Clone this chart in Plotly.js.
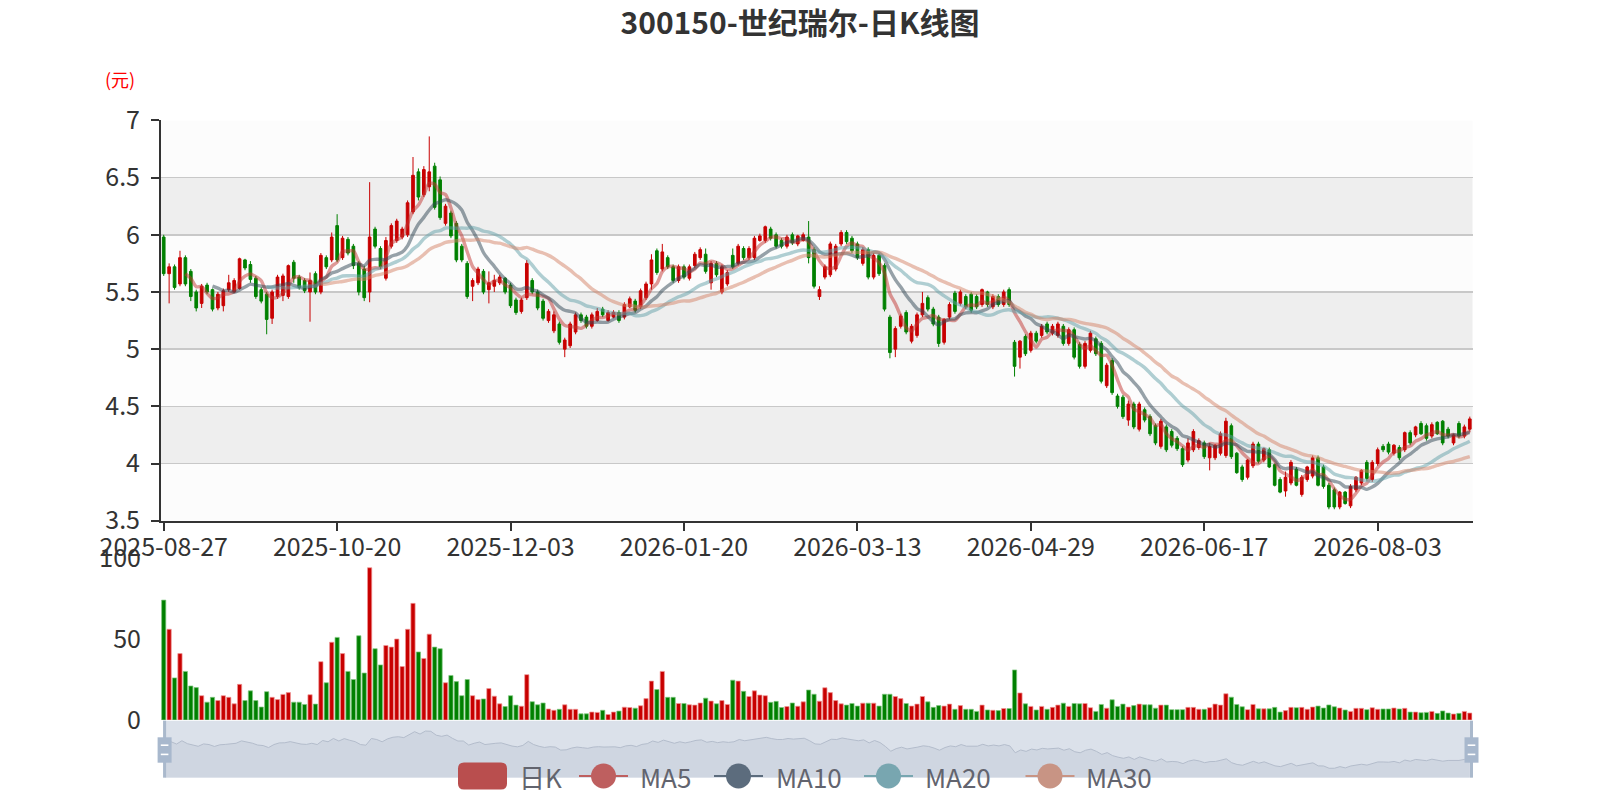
<!DOCTYPE html>
<html>
<head>
<meta charset="utf-8">
<script src="https://cdn.plot.ly/plotly-3.0.1.min.js"></script>
<style>html,body{margin:0;padding:0;background:#fff;}#chart{width:1600px;height:800px;}</style>
</head>
<body>
<div id="chart"></div>
<script>
// ---- data ----
const tickIdx = [0, 32, 64, 96, 128, 160, 192, 224];
const tickLabels = ['2025-08-27','2025-10-20','2025-12-03','2026-01-20','2026-03-13','2026-04-29','2026-06-17','2026-08-03'];

const opens = [
5.98,5.66,5.72,5.57,5.80,5.68,5.50,5.40,5.56,5.52,5.36,5.38,5.52,5.50,5.53,5.78,5.74,5.62,5.52,5.48,
5.27,5.46,5.47,5.46,5.76,5.63,5.60,5.50,5.66,5.50,5.80,5.78,6.08,5.80,5.96,5.90,5.75,5.70,5.50,6.05,
5.88,5.62,5.90,5.95,5.98,6.00,6.20,6.55,6.35,6.42,6.60,6.48,6.10,6.19,6.10,5.90,5.75,5.55,5.58,5.68,
5.52,5.55,5.58,5.62,5.56,5.43,5.33,5.45,5.60,5.50,5.42,5.25,5.16,5.22,5.00,5.03,5.15,5.30,5.28,5.20,
5.25,5.35,5.25,5.28,5.32,5.28,5.37,5.42,5.37,5.45,5.57,5.86,5.70,5.80,5.72,5.60,5.72,5.62,5.73,5.80,
5.83,5.58,5.75,5.50,5.57,5.82,5.75,5.88,5.80,5.80,5.95,5.95,6.05,6.00,5.95,5.90,6.00,5.92,5.95,5.98,
5.87,5.46,5.63,5.65,5.70,5.92,6.02,5.97,5.92,5.75,5.87,5.63,5.82,5.73,5.28,5.00,5.20,5.32,5.07,5.12,
5.30,5.45,5.35,5.28,5.06,5.28,5.49,5.40,5.46,5.48,5.46,5.39,5.50,5.37,5.46,5.39,5.52,5.06,4.93,5.11,
4.99,5.14,5.12,5.22,5.14,5.12,5.20,5.05,5.17,5.04,4.85,4.99,5.09,5.05,4.68,4.90,4.59,4.58,4.38,4.52,
4.30,4.47,4.41,4.33,4.15,4.32,4.28,4.22,4.13,4.03,4.12,4.14,4.18,4.05,4.05,4.09,4.07,4.33,4.09,3.97,
3.88,3.98,4.17,4.03,4.12,3.99,3.86,3.76,3.83,3.95,3.73,3.86,3.89,4.05,3.97,3.81,3.77,3.62,3.75,3.63,
3.77,3.83,4.01,3.86,4.00,4.15,4.17,4.09,4.14,4.12,4.27,4.25,4.35,4.33,4.24,4.36,4.37,4.30,4.18,4.35,
4.24,4.30];
const highs = [
6.00,5.75,5.74,5.86,5.82,5.70,5.52,5.57,5.58,5.53,5.50,5.53,5.65,5.62,5.80,5.79,5.77,5.64,5.54,5.50,
5.52,5.65,5.66,5.74,5.78,5.65,5.62,5.67,5.68,5.84,5.82,6.02,6.18,5.99,5.98,5.92,5.77,5.73,6.46,6.07,
5.90,5.98,6.10,6.14,6.07,6.30,6.68,6.58,6.60,6.86,6.63,6.51,6.27,6.21,6.12,5.92,5.77,5.62,5.72,5.70,
5.68,5.65,5.65,5.63,5.58,5.45,5.45,5.78,5.62,5.52,5.44,5.35,5.33,5.24,5.10,5.24,5.32,5.32,5.30,5.32,
5.36,5.37,5.34,5.34,5.34,5.41,5.46,5.44,5.53,5.59,5.83,5.88,5.92,5.82,5.74,5.74,5.74,5.74,5.85,5.89,
5.88,5.77,5.77,5.74,5.69,5.88,5.92,5.90,5.90,5.99,6.01,6.08,6.07,6.02,5.97,6.00,6.02,6.00,6.02,6.12,
5.89,5.55,5.74,5.94,5.92,6.04,6.04,5.99,5.94,5.89,5.89,5.84,5.84,5.75,5.30,5.20,5.31,5.34,5.22,5.32,
5.50,5.47,5.37,5.30,5.27,5.41,5.51,5.52,5.48,5.50,5.48,5.53,5.51,5.48,5.48,5.52,5.54,5.08,5.08,5.13,
5.16,5.16,5.22,5.24,5.22,5.24,5.22,5.19,5.19,5.06,5.07,5.16,5.11,5.07,4.88,4.92,4.61,4.60,4.55,4.54,
4.54,4.49,4.43,4.35,4.39,4.34,4.30,4.24,4.15,4.22,4.30,4.22,4.20,4.18,4.17,4.28,4.40,4.35,4.10,3.99,
4.04,4.19,4.19,4.14,4.14,4.00,3.88,3.93,4.03,3.97,3.90,3.98,4.07,4.07,3.99,3.83,3.79,3.76,3.76,3.82,
3.89,3.95,4.03,4.03,4.14,4.17,4.19,4.17,4.16,4.28,4.29,4.33,4.37,4.35,4.36,4.37,4.38,4.32,4.26,4.37,
4.34,4.41];
const lows = [
5.64,5.40,5.52,5.55,5.55,5.42,5.33,5.36,5.48,5.33,5.34,5.33,5.50,5.49,5.52,5.69,5.58,5.44,5.40,5.13,
5.22,5.44,5.42,5.44,5.58,5.52,5.49,5.24,5.48,5.48,5.70,5.76,5.76,5.78,5.82,5.70,5.47,5.42,5.41,5.88,
5.70,5.60,5.88,5.93,5.96,5.98,6.18,6.30,6.33,6.38,6.22,6.13,6.08,5.97,5.76,5.76,5.44,5.42,5.56,5.48,
5.40,5.50,5.56,5.48,5.36,5.30,5.31,5.43,5.48,5.34,5.25,5.23,5.14,5.04,4.93,5.01,5.13,5.23,5.18,5.18,
5.24,5.28,5.24,5.27,5.23,5.26,5.36,5.32,5.35,5.43,5.52,5.65,5.68,5.70,5.58,5.58,5.61,5.60,5.71,5.78,
5.66,5.52,5.63,5.48,5.55,5.70,5.73,5.78,5.78,5.78,5.94,5.93,5.95,5.88,5.88,5.88,5.91,5.90,5.94,5.75,
5.53,5.43,5.61,5.63,5.68,5.90,5.92,5.84,5.78,5.73,5.61,5.61,5.64,5.33,4.92,4.93,5.18,5.13,5.05,5.10,
5.28,5.33,5.20,5.02,5.04,5.26,5.31,5.38,5.35,5.32,5.35,5.37,5.37,5.35,5.37,5.37,5.37,4.76,4.83,4.94,
4.97,5.05,5.10,5.13,5.12,5.10,5.03,5.03,4.91,4.83,4.83,4.97,4.94,4.70,4.66,4.60,4.48,4.39,4.33,4.30,
4.28,4.36,4.24,4.16,4.13,4.10,4.14,4.11,3.97,4.01,4.10,4.12,4.04,3.94,4.03,4.07,4.05,4.04,3.91,3.84,
3.86,3.96,4.00,4.01,3.96,3.80,3.74,3.71,3.81,3.80,3.71,3.84,3.87,3.80,3.78,3.60,3.60,3.60,3.64,3.61,
3.75,3.81,3.85,3.84,3.98,4.10,4.08,4.07,4.03,4.10,4.16,4.23,4.25,4.20,4.22,4.25,4.16,4.22,4.16,4.22,
4.22,4.28];
const closes = [
5.66,5.72,5.54,5.80,5.57,5.46,5.36,5.55,5.50,5.35,5.48,5.51,5.58,5.60,5.79,5.71,5.61,5.46,5.42,5.26,
5.50,5.63,5.64,5.73,5.62,5.54,5.51,5.60,5.50,5.82,5.72,5.98,5.78,5.97,5.84,5.73,5.50,5.45,5.98,5.90,
5.72,5.95,6.08,6.12,6.05,6.28,6.52,6.33,6.57,6.55,6.24,6.15,6.25,5.99,5.78,5.78,5.46,5.60,5.70,5.50,
5.58,5.60,5.63,5.50,5.38,5.32,5.43,5.75,5.50,5.36,5.27,5.33,5.30,5.06,5.08,5.22,5.30,5.25,5.20,5.30,
5.33,5.30,5.32,5.32,5.25,5.39,5.44,5.34,5.51,5.57,5.78,5.67,5.85,5.72,5.60,5.72,5.63,5.72,5.83,5.87,
5.68,5.75,5.65,5.72,5.67,5.72,5.90,5.80,5.88,5.97,5.99,6.07,5.97,5.90,5.90,5.98,5.93,5.99,6.00,5.80,
5.55,5.52,5.72,5.92,5.90,6.02,5.94,5.86,5.80,5.87,5.63,5.82,5.66,5.35,4.97,5.18,5.29,5.15,5.20,5.30,
5.40,5.35,5.22,5.05,5.26,5.39,5.33,5.50,5.37,5.34,5.37,5.52,5.39,5.46,5.39,5.50,5.39,4.85,5.07,4.96,
5.14,5.07,5.20,5.15,5.20,5.22,5.05,5.17,4.93,4.85,5.05,5.14,4.96,4.72,4.86,4.62,4.50,4.41,4.52,4.32,
4.52,4.38,4.26,4.18,4.37,4.12,4.16,4.13,3.99,4.18,4.28,4.20,4.06,4.15,4.16,4.26,4.37,4.06,3.92,3.86,
4.03,4.17,4.02,4.13,3.97,3.81,3.75,3.88,4.01,3.81,3.88,3.97,4.05,3.81,3.80,3.62,3.62,3.75,3.65,3.80,
3.88,3.94,3.87,4.01,4.12,4.12,4.10,4.16,4.05,4.27,4.18,4.32,4.26,4.22,4.34,4.26,4.18,4.24,4.25,4.24,
4.32,4.39];
const volumes = [
74,56,26,41,30,21,20,15,11,14,12,15,14,10,22,12,18,12,8,17.5,
14,12.6,15.8,16.9,11,11,9.6,15.6,9.8,36,23,48,51,41,30,25,52,29,94,44,
34,46,45,50,33,56,72,42,38,53,45,44,23,27.5,23.7,15,25,15,12.6,13,
19.4,14.7,10,8.3,15,9.2,8.5,28,11.3,9.4,10.5,6.8,6,6.6,9.4,6.6,6.6,3.8,3.8,4.9,
4.7,6,3.4,4.9,5.5,7.9,7.7,7.3,8.8,13.2,24,18.8,30,14,14,10.2,10.2,9.4,9.2,10.5,
13.5,11.7,10,12,9.6,24.6,24,17.7,14.5,18,15.4,15,10.9,11.5,7.7,8.3,10.5,8.5,
11.2,18.5,15.9,11.6,19.9,16.9,12,10,9.2,10.2,8.6,10.4,10.4,10.4,8.6,15.9,15.9,14.5,13.2,10.2,
8.6,9.8,14.5,11.2,7.8,8.9,8.6,9.8,6.6,8.9,6.6,6.6,5.3,9.2,6.2,6,5.8,7.1,7.1,
30.9,
16.7,10,8.4,6.2,8.4,6.6,7.8,9.2,10.4,8.4,10.2,10,10.2,7.6,5.3,9.6,7.3,12.5,8.4,9.8,
8,8.9,9.8,9.4,9.4,7.3,9.2,9.2,6.4,6.4,6.4,7.8,7.8,6.6,6.6,7.6,9.8,9.2,
16.2,
14.1,9.6,8.2,6.4,9.6,6.9,6.9,6.9,7.8,4.9,5.8,7.8,7.6,
7.8,6.6,8.0,8.6,7.4,9.3,8.2,7.4,6.2,5.3,7.2,7.2,6.4,7.6,6.6,6.8,6.8,7.4,6.8,7.2,
4.9,4.9,4.5,4.7,5.3,4.1,5.6,4.3,3.7,4.1,5.3,4.3];
const maPeriods = [5, 10, 20, 30];
const maNames = ['MA5', 'MA10', 'MA20', 'MA30'];

// ---- styling ----
const FONT = '"Noto Sans CJK SC", "Noto Sans", sans-serif';
const UP = '#c80000', DOWN = '#008000';
const maColors = ['rgba(194,53,49,0.5)', 'rgba(47,69,84,0.5)', 'rgba(97,160,168,0.5)', 'rgba(212,130,101,0.5)'];
const legendMaColors = ['#be5f5f', '#5c6c7d', '#78a6b0', '#c89484'];
const W = 1600, H = 800;
const px = v => v / W, py = v => 1 - v / H;
const xDom = [px(161), px(1472.5)];
const N = closes.length;
const idx = closes.map((_, i) => i);
const xRange = [-0.5, N - 0.5];

function movingAverage(n) {
  return closes.map((c, i) => {
    if (i < n - 1) return null;
    let s = 0;
    for (let k = i - n + 1; k <= i; k++) s += closes[k];
    return s / n;
  });
}

const traces = [];
traces.push({
  type: 'candlestick', x: idx, open: opens, high: highs, low: lows, close: closes,
  xaxis: 'x', yaxis: 'y', showlegend: false, hoverinfo: 'skip', whiskerwidth: 0,
  increasing: {line: {color: UP, width: 1}, fillcolor: UP},
  decreasing: {line: {color: DOWN, width: 1}, fillcolor: DOWN}
});
maPeriods.forEach((p, k) => {
  traces.push({
    type: 'scatter', mode: 'lines', x: idx, y: movingAverage(p), name: maNames[k],
    xaxis: 'x', yaxis: 'y', showlegend: false, hoverinfo: 'skip',
    line: {color: maColors[k], width: 3.4, shape: 'spline', smoothing: 0.7}
  });
});
const volColors = closes.map((c, i) => c >= opens[i] ? UP : DOWN);
const volEdge = closes.map((c, i) => c >= opens[i] ? 'rgba(240,150,150,0.9)' : 'rgba(130,200,130,0.9)');
traces.push({
  type: 'bar', x: idx, y: volumes, xaxis: 'x2', yaxis: 'y2', width: 0.78,
  marker: {color: volColors, line: {color: volEdge, width: 0.8}},
  showlegend: false, hoverinfo: 'skip'
});
traces.push({
  type: 'scatter', mode: 'lines', x: idx, y: closes, xaxis: 'x3', yaxis: 'y3',
  fill: 'tozeroy', fillcolor: '#cfd6e1', line: {color: '#b3bccb', width: 1},
  showlegend: false, hoverinfo: 'skip'
});

const shapes = [];
// alternating split areas of the price grid
for (let k = 0; k < 7; k++) {
  shapes.push({type: 'rect', xref: 'x domain', yref: 'y', x0: 0, x1: 1, y0: 3.5 + 0.5 * k, y1: 4 + 0.5 * k,
    fillcolor: k % 2 === 0 ? '#fcfcfc' : '#eeeeee', line: {width: 0}, layer: 'below'});
}
// data zoom slider frame
shapes.push({type: 'rect', xref: 'paper', yref: 'paper', x0: px(163), x1: px(1472.5), y0: py(777.6), y1: py(720.7),
  fillcolor: '#dbe1ea', line: {width: 0}, layer: 'below'});
[164.6, 1471.5].forEach(cx => {
  shapes.push({type: 'line', xref: 'paper', yref: 'paper', x0: px(cx), x1: px(cx), y0: py(777.6), y1: py(720.7),
    line: {color: '#aab9cc', width: 3}});
  shapes.push({type: 'rect', xref: 'paper', yref: 'paper', x0: px(cx - 7), x1: px(cx + 7), y0: py(762.7), y1: py(737.3),
    fillcolor: '#a8b8cd', line: {width: 0}});
  [745.2, 754.4].forEach(hy => shapes.push({type: 'line', xref: 'paper', yref: 'paper',
    x0: px(cx - 3.8), x1: px(cx + 3.8), y0: py(hy), y1: py(hy), line: {color: '#ffffff', width: 1.6}}));
});
// legend (drawn manually to match the reference icons)
function roundRect(x0, y0, x1, y1, r) {
  const X = v => px(v), Y = v => py(v);
  return `M ${X(x0 + r)} ${Y(y0)} L ${X(x1 - r)} ${Y(y0)} Q ${X(x1)} ${Y(y0)} ${X(x1)} ${Y(y0 + r)} ` +
    `L ${X(x1)} ${Y(y1 - r)} Q ${X(x1)} ${Y(y1)} ${X(x1 - r)} ${Y(y1)} L ${X(x0 + r)} ${Y(y1)} ` +
    `Q ${X(x0)} ${Y(y1)} ${X(x0)} ${Y(y1 - r)} L ${X(x0)} ${Y(y0 + r)} Q ${X(x0)} ${Y(y0)} ${X(x0 + r)} ${Y(y0)} Z`;
}
const LY = 776;
shapes.push({type: 'path', xref: 'paper', yref: 'paper', path: roundRect(458, LY - 13.5, 507, LY + 13.5, 6),
  fillcolor: '#b94e4e', line: {width: 0}});
const legendIconX = [579, 714, 864, 1025.5];
legendIconX.forEach((lx, k) => {
  shapes.push({type: 'line', xref: 'paper', yref: 'paper', x0: px(lx), x1: px(lx + 49), y0: py(LY), y1: py(LY),
    line: {color: legendMaColors[k], width: 2}});
  shapes.push({type: 'circle', xref: 'paper', yref: 'paper', x0: px(lx + 24.5 - 12.5), x1: px(lx + 24.5 + 12.5),
    y0: py(LY + 12.5), y1: py(LY - 12.5), fillcolor: legendMaColors[k], line: {width: 0}});
});

const annotations = [];
annotations.push({xref: 'paper', yref: 'paper', x: px(119.5), y: py(79), text: '(元)', showarrow: false,
  xanchor: 'center', yanchor: 'middle', font: {family: FONT, size: 18, color: '#ff0000'}});
const legendTexts = ['日K'].concat(maNames);
const legendTextX = [517, 638, 773.5, 922.5, 1084];
legendTexts.forEach((t, k) => annotations.push({xref: 'paper', yref: 'paper', x: px(legendTextX[k]), y: py(LY),
  text: t, showarrow: false, xanchor: 'left', yanchor: 'middle', font: {family: FONT, size: 26, color: '#62646e'}}));

const axisFont = {family: FONT, size: 25, color: '#333'};
const layout = {
  width: W, height: H, margin: {l: 0, r: 0, t: 0, b: 0},
  paper_bgcolor: '#ffffff', plot_bgcolor: 'rgba(0,0,0,0)',
  showlegend: false, boxgap: 0.3,
  title: {text: '300150-世纪瑞尔-日K线图', x: 0.5, xanchor: 'center', xref: 'paper', y: py(23.5), yref: 'container',
    yanchor: 'middle', font: {family: FONT, size: 30, color: '#333', weight: 'bold'}},
  xaxis: {domain: xDom, anchor: 'y', range: xRange, tickmode: 'array', tickvals: tickIdx, ticktext: tickLabels,
    ticks: 'outside', ticklen: 8, tickwidth: 2, tickcolor: '#333', ticklabelstandoff: -5,
    showline: true, linecolor: '#333', linewidth: 2,
    showgrid: false, zeroline: false, tickfont: axisFont, rangeslider: {visible: false}, fixedrange: true},
  yaxis: {domain: [py(520.7), py(120.4)], anchor: 'x', range: [3.5, 7], dtick: 0.5, tick0: 3.5,
    ticks: 'outside', ticklen: 8, tickwidth: 2, tickcolor: '#333', ticklabelstandoff: 6,
    showline: true, linecolor: '#333', linewidth: 2, showgrid: true, gridcolor: '#c8c8c8', gridwidth: 1.6,
    zeroline: false, tickfont: axisFont, fixedrange: true},
  xaxis2: {domain: xDom, anchor: 'y2', range: xRange, showticklabels: false, ticks: '', showline: false,
    showgrid: false, zeroline: false, fixedrange: true},
  yaxis2: {domain: [py(720), py(558)], anchor: 'x2', range: [0, 100], tickvals: [0, 50, 100],
    ticks: 'outside', ticklen: 8, tickcolor: 'rgba(0,0,0,0)', ticklabelstandoff: 6,
    showline: false, showgrid: false, zeroline: false, tickfont: axisFont, fixedrange: true},
  xaxis3: {domain: [px(163), px(1472.5)], anchor: 'y3', range: xRange, visible: false, fixedrange: true},
  yaxis3: {domain: [py(777.6), py(720.7)], anchor: 'x3', range: [2.88, 7.39], visible: false, fixedrange: true},
  shapes: shapes, annotations: annotations
};
Plotly.newPlot('chart', traces, layout, {displayModeBar: false, staticPlot: true});
</script>
</body>
</html>
